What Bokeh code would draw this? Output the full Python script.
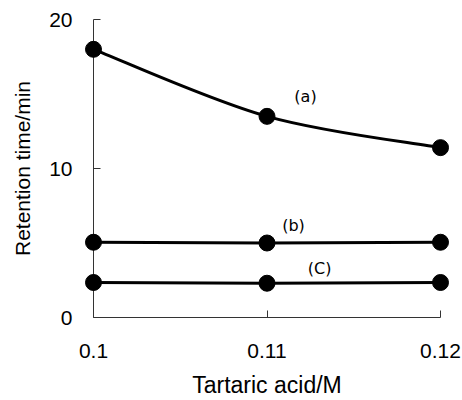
from bokeh.plotting import figure
from bokeh.models import Range1d, FixedTicker, Label
from bokeh.embed import file_html
from bokeh.resources import INLINE

x_vals = [0.10, 0.11, 0.12]
series_a = [18.0, 13.5, 11.4]
series_b = [5.05, 5.0, 5.05]
series_c = [2.35, 2.3, 2.35]
series_labels = ["(a)", "(b)", "(C)"]
label_x = [0.11222, 0.11153, 0.11303]
label_y = [14.8, 6.15, 3.3]
y_ticks = [0, 10, 20]

FONT = "Liberation Sans"

p = figure(width=462, height=400, output_backend="svg", toolbar_location=None,
           x_range=Range1d(0.10, 0.12), y_range=Range1d(0, 20))
p.min_border_left = 93
p.min_border_right = 22
p.min_border_top = 19
p.min_border_bottom = 82
p.outline_line_color = None
p.grid.visible = False
p.background_fill_color = "white"
p.border_fill_color = "white"

# smooth curve for (a) via Catmull-Rom -> cubic bezier, derived from data
n = len(x_vals)
P = list(zip(x_vals, series_a))
x0s, y0s, x1s, y1s, cx0, cy0, cx1, cy1 = [], [], [], [], [], [], [], []
for i in range(n - 1):
    pm = P[i - 1] if i > 0 else P[i]
    p0 = P[i]
    p1 = P[i + 1]
    p2 = P[i + 2] if i + 2 < n else P[i + 1]
    x0s.append(p0[0]); y0s.append(p0[1]); x1s.append(p1[0]); y1s.append(p1[1])
    cx0.append(p0[0] + (p1[0] - pm[0]) / 6); cy0.append(p0[1] + (p1[1] - pm[1]) / 6)
    cx1.append(p1[0] - (p2[0] - p0[0]) / 6); cy1.append(p1[1] - (p2[1] - p0[1]) / 6)
p.bezier(x0=x0s, y0=y0s, x1=x1s, y1=y1s, cx0=cx0, cy0=cy0, cx1=cx1, cy1=cy1,
         line_color="black", line_width=3, level="overlay")

for ys in (series_b, series_c):
    p.line(x_vals, ys, line_color="black", line_width=3, level="overlay")
for ys in (series_a, series_b, series_c):
    p.scatter(x_vals, ys, size=16, fill_color="black", line_color="black", level="overlay")

for t, lx, ly in zip(series_labels, label_x, label_y):
    p.add_layout(Label(x=lx, y=ly, text=t, text_font="DejaVu Sans", text_font_size="16px",
                       text_color="black", text_align="center", text_baseline="middle"))

p.xaxis.ticker = FixedTicker(ticks=x_vals)
p.xaxis.major_label_overrides = {0.10: "0.1", 0.11: "0.11", 0.12: "0.12"}
p.yaxis.ticker = FixedTicker(ticks=y_ticks)
for ax in (p.xaxis, p.yaxis):
    ax.major_tick_in = 7
    ax.major_tick_out = 0
    ax.minor_tick_line_color = None
    ax.axis_line_color = "#333333"
    ax.axis_line_width = 1
    ax.major_tick_line_color = "#333333"
    ax.major_label_text_font = FONT
    ax.major_label_text_font_size = "21px"
    ax.major_label_text_color = "black"
    ax.axis_label_text_font = FONT
    ax.axis_label_text_font_style = "normal"
    ax.axis_label_text_color = "black"
p.yaxis.major_label_standoff = 21
p.xaxis.major_label_standoff = 26
p.yaxis.axis_label = "Retention time/min"
p.yaxis.axis_label_text_font_size = "21px"
p.yaxis.axis_label_standoff = 12
p.xaxis.axis_label = "Tartaric acid/M"
p.xaxis.axis_label_text_font_size = "23px"
p.xaxis.axis_label_standoff = 11

open("out.html", "w").write(file_html(p, INLINE))
